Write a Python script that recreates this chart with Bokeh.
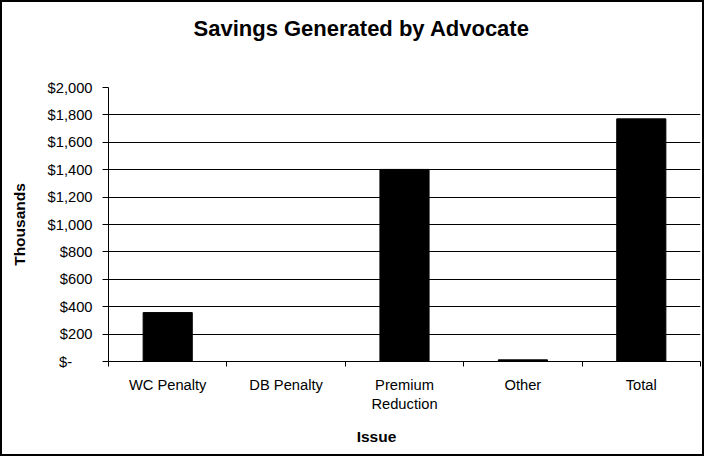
from bokeh.plotting import figure
from bokeh.models import Range1d, FixedTicker, LinearAxis
from bokeh.embed import file_html
from bokeh.resources import INLINE

# ---- data ----
categories = ["WC Penalty", "DB Penalty", "Premium\nReduction", "Other", "Total"]
savings_thousands = [357, 0, 1402, 12, 1771]
y_ticks = [0, 200, 400, 600, 800, 1000, 1200, 1400, 1600, 1800, 2000]
y_tick_labels = ["$-" + "\u00a0" * 5, "$200", "$400", "$600", "$800", "$1,000",
                 "$1,200", "$1,400", "$1,600", "$1,800", "$2,000"]
title_text = "Savings Generated by Advocate"
x_title = "Issue"
y_title = "Thousands"

FONT = "Liberation Sans"

n = len(categories)
centers = [i + 0.5 for i in range(n)]
bounds = list(range(n + 1))

p = figure(width=704, height=456, output_backend="svg", toolbar_location=None,
           x_range=Range1d(0, n), y_range=Range1d(0, 2000),
           min_border_left=106, min_border_right=6, min_border_top=85,
           min_border_bottom=97)
p.outline_line_color = None
p.background_fill_color = "white"
p.border_fill_color = "white"
p.styles = {"border": "2px solid black"}

p.vbar(x=centers, top=savings_thousands, width=0.415,
       fill_color="black", line_color="black")

# x axis
xa = p.xaxis[0]
xa.ticker = FixedTicker(ticks=centers, minor_ticks=bounds)
xa.major_label_overrides = {c: lab for c, lab in zip(centers, categories)}
xa.major_tick_out = 0
xa.major_tick_in = 0
xa.minor_tick_out = 5
xa.minor_tick_in = 0
xa.minor_tick_line_color = "black"
xa.axis_line_color = "black"
xa.major_label_text_font = FONT
xa.major_label_text_font_size = "14.7px"
xa.major_label_text_color = "black"
xa.major_label_standoff = 10
xa.axis_label = x_title + "\u00a0" * 13
xa.axis_label_text_font = FONT
xa.axis_label_text_font_size = "15.5px"
xa.axis_label_text_font_style = "bold"
xa.axis_label_text_color = "black"
xa.axis_label_standoff = 13

# y axis
ya = p.yaxis[0]
ya.ticker = FixedTicker(ticks=y_ticks, minor_ticks=[])
ya.major_label_overrides = {t: lab for t, lab in zip(y_ticks, y_tick_labels)}
ya.major_tick_out = 6
ya.major_tick_in = 0
ya.minor_tick_out = 0
ya.minor_tick_in = 0
ya.major_tick_line_color = "black"
ya.axis_line_color = "black"
ya.major_label_text_font = FONT
ya.major_label_text_font_size = "14.7px"
ya.major_label_text_color = "black"
ya.major_label_standoff = 10
ya.axis_label = y_title
ya.axis_label_text_font = FONT
ya.axis_label_text_font_size = "15.5px"
ya.axis_label_text_font_style = "bold"
ya.axis_label_text_color = "black"
ya.axis_label_standoff = 17

p.xgrid.grid_line_color = None
p.ygrid.grid_line_color = "black"
p.ygrid.grid_line_alpha = 1.0
p.ygrid.ticker = FixedTicker(ticks=y_ticks)

# invisible spacer between the frame and the title (white tick on white border)
spacer = LinearAxis(ticker=FixedTicker(ticks=[0], minor_ticks=[]), axis_line_color=None,
                    major_tick_line_color="white", minor_tick_line_color=None,
                    major_tick_out=43, major_tick_in=0, minor_tick_out=0,
                    major_label_standoff=0, major_label_text_font_size="0px",
                    major_label_overrides={0: ""})
p.add_layout(spacer, "above")

p.title.text = title_text
p.title.text_font = FONT
p.title.text_font_size = "22px"
p.title.text_font_style = "bold"
p.title.text_color = "black"
p.title.align = "left"
p.title.offset = 85
p.title.standoff = 7

open("out.html", "w").write(file_html(p, INLINE))
